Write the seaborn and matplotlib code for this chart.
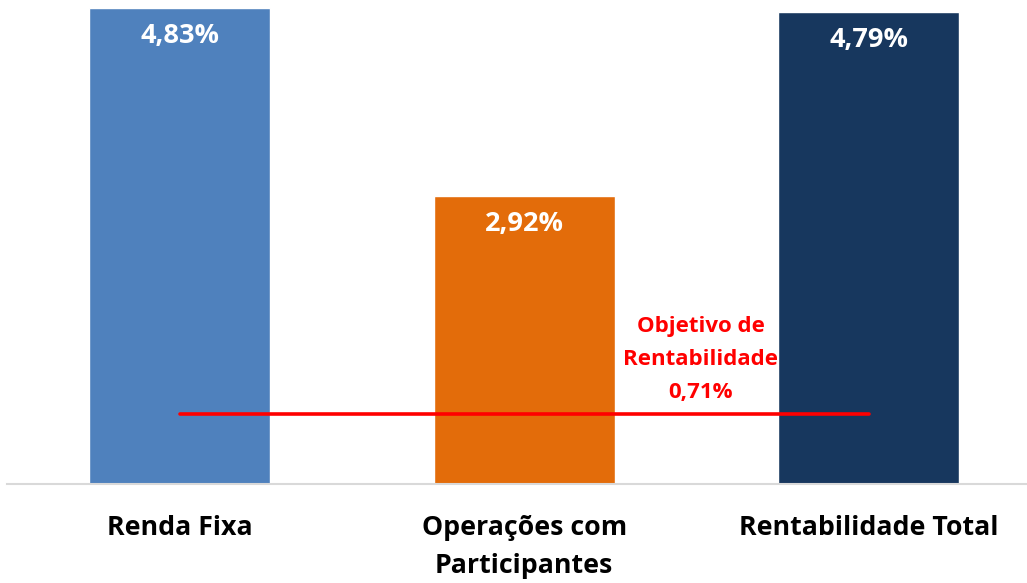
import seaborn as sns
import matplotlib.pyplot as plt
import pandas as pd

# data
categorias = ["Renda Fixa", "Operações com\nParticipantes", "Rentabilidade Total"]
rentabilidade = [4.83, 2.92, 4.79]
cores = ["#4F81BD", "#E36C0A", "#17375E"]
objetivo = 0.71

sns.set_style("white")
plt.rcParams['font.family'] = ['Open Sans', 'DejaVu Sans']

df = pd.DataFrame({"categoria": categorias, "valor": rentabilidade})

fig = plt.figure(figsize=(10.27, 5.83), dpi=100)
ax = fig.add_axes([0.007, 0.169, 0.993, 0.831])

sns.barplot(data=df, x="categoria", y="valor", hue="categoria", palette=cores,
            width=0.526, legend=False, saturation=1, ax=ax)

# linha do objetivo
ax.plot([0, 1, 2], [objetivo] * 3, color="#FF0000", lw=2.6, zorder=5)

# rótulos dentro das barras
for i, v in enumerate(rentabilidade):
    ax.text(i, v - 0.28, f"{v:.2f}%".replace(".", ","), ha="center", va="center",
            color="white", fontsize=19.5, fontweight="bold")

ax.text(1.512, 1.27, "Objetivo de\nRentabilidade\n" + f"{objetivo:.2f}%".replace(".", ","),
        ha="center", va="center", color="#FF0000", fontsize=16, fontweight="bold",
        linespacing=1.75)

ax.set_xlim(-0.501, 2.46)
ax.set_ylim(0, 4.911)
ax.set_xlabel("")
ax.set_ylabel("")
ax.set_yticks([])
ax.tick_params(axis="x", length=0, pad=22, labelsize=19.3, labelcolor="black")
for lbl in ax.get_xticklabels():
    lbl.set_fontweight("bold")
    lbl.set_verticalalignment("top")
    lbl.set_linespacing(1.6)
sns.despine(ax=ax, left=True)
ax.spines["bottom"].set_color("#D9D9D9")
ax.spines["bottom"].set_linewidth(1.5)

fig.savefig("out.png", dpi=100)
